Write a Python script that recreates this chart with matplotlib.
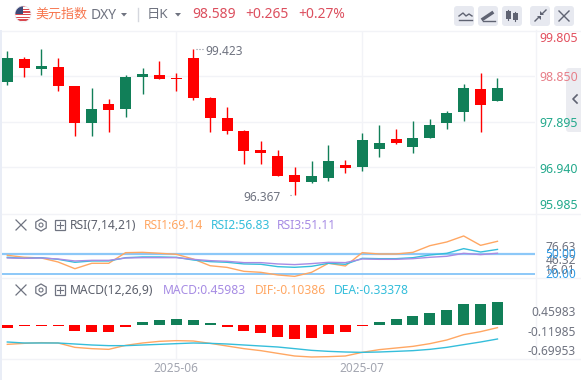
import matplotlib
matplotlib.use('Agg')
import numpy as np
import matplotlib.pyplot as plt
from matplotlib.patches import Circle, FancyBboxPatch, Rectangle, RegularPolygon

plt.rcParams['font.family'] = ['Noto Sans', 'Noto Sans CJK SC', 'DejaVu Sans']

# Daily candles
opens = [98.724, 99.206, 98.997, 99.038, 98.641, 97.872, 98.264, 98.159, 98.829, 98.871,
         98.808, 99.227, 98.389, 97.970, 97.698, 97.300, 97.175, 96.777, 96.630, 96.714,
         96.986, 96.944, 97.321, 97.531, 97.363, 97.552, 97.866, 98.096, 98.578, 98.326]
highs = [99.374, 99.254, 99.415, 99.227, 98.641, 98.599, 98.368, 98.871, 99.018, 99.164,
         98.913, 99.423, 98.410, 98.201, 97.719, 97.489, 97.300, 96.944, 97.070, 97.405,
         97.091, 97.656, 97.824, 97.740, 97.908, 97.949, 98.117, 98.682, 98.913, 98.808]
lows = [98.662, 98.829, 98.871, 98.536, 97.593, 97.593, 97.677, 97.991, 98.473, 98.787,
        98.536, 98.347, 97.677, 97.635, 97.011, 97.011, 96.756, 96.367, 96.609, 96.651,
        96.819, 96.860, 97.154, 97.426, 97.237, 97.552, 97.740, 97.908, 97.677, 98.326]
closes = [99.227, 99.018, 99.059, 98.641, 97.872, 98.159, 98.138, 98.829, 98.892, 98.787,
          98.793, 98.389, 97.970, 97.698, 97.279, 97.237, 96.756, 96.630, 96.756, 97.070,
          96.923, 97.510, 97.447, 97.447, 97.552, 97.824, 98.075, 98.599, 98.243, 98.599]

rsi1 = [47.9, 44.9, 43.9, 37.8, 27.6, 35.8, 35.8, 51.9, 52.4, 51.0, 49.4, 42.3, 32.1, 29.6, 23.6,
        22.1, 18.1, 16.0, 22.1, 35.8, 31.7, 51.9, 49.9, 49.9, 52.4, 62.5, 68.1, 77.2, 63.0, 69.14]
rsi2 = [44.9, 43.3, 44.3, 41.8, 37.3, 39.3, 39.3, 44.3, 45.4, 45.4, 44.9, 40.8, 38.3, 37.3, 34.8,
        34.3, 30.7, 29.7, 31.2, 35.8, 34.3, 43.3, 42.8, 42.8, 44.3, 48.4, 50.9, 58.0, 52.9, 56.83]
rsi3 = [43.8, 43.3, 43.8, 42.3, 39.3, 40.3, 40.3, 43.8, 44.3, 44.3, 44.3, 41.8, 39.8, 38.8, 36.8,
        36.8, 34.8, 33.8, 35.3, 37.3, 36.8, 42.3, 41.8, 41.8, 42.8, 44.9, 46.4, 50.9, 48.9, 51.11]

macd = [-0.06, -0.012, -0.012, -0.012, -0.12, -0.14, -0.14, -0.04, 0.06, 0.107,
        0.12, 0.10, 0.04, -0.04, -0.12, -0.16, -0.24, -0.28, -0.26, -0.18,
        -0.14, -0.02, 0.06, 0.12, 0.18, 0.24, 0.30, 0.42, 0.42, 0.46]
dif = [-0.387, -0.367, -0.353, -0.360, -0.447, -0.473, -0.487, -0.407, -0.360, -0.327,
       -0.313, -0.320, -0.367, -0.420, -0.473, -0.513, -0.567, -0.620, -0.640, -0.633,
       -0.620, -0.547, -0.493, -0.460, -0.427, -0.373, -0.300, -0.193, -0.133, -0.053]
dea = [-0.340, -0.360, -0.360, -0.360, -0.380, -0.400, -0.413, -0.413, -0.400, -0.387,
       -0.373, -0.360, -0.367, -0.380, -0.400, -0.420, -0.440, -0.473, -0.507, -0.527,
       -0.540, -0.547, -0.540, -0.527, -0.513, -0.487, -0.447, -0.393, -0.340, -0.280]

price_ticks = [99.805, 98.850, 97.895, 96.940, 95.985]
month_labels = ['2025-06', '2025-07']
month_index = [10, 21]

GREEN = '#117f58'
RED = '#ff0000'
GRID = '#f2f3f7'
ORANGE = '#ffa763'
CYAN = '#35bedb'
PURPLE = '#a78ce4'
GRAY = '#6f7380'
W, H = 581, 380

fig = plt.figure(figsize=(W / 100, H / 100), dpi=100)


def panel(top, bottom):
    # axes placed by pixel rows, sharing the candle x positions
    ax = fig.add_axes([0, 1 - bottom / H, 535 / W, (bottom - top) / H])
    ax.set_xlim(-0.432, 31.22)
    ax.set_xticks([])
    ax.set_yticks([])
    for s in ax.spines.values():
        s.set_visible(False)
    for i in month_index:
        ax.axvline(i, color=GRID, lw=1, zorder=0)
    return ax


x = np.arange(len(opens))
ups = np.array(closes) >= np.array(opens)
colors = [GREEN if u else RED for u in ups]

# candles
ax1 = panel(30.5, 214)
ax1.set_ylim(95.96, 99.803)
for p in price_ticks[1:4]:
    ax1.axhline(p, color=GRID, lw=1, zorder=0)
ax1.vlines(x, lows, highs, colors=colors, lw=1.0, zorder=2)
ax1.bar(x, np.abs(np.array(closes) - np.array(opens)), bottom=np.minimum(opens, closes),
        width=0.65, color=colors, zorder=3)
ax1.plot([11.15, 11.65], [highs[11], highs[11]], color='#8a8d98', lw=0.8, ls=':')
ax1.annotate('99.423', (11.7, highs[11]), xytext=(0, -2), textcoords='offset points',
             color=GRAY, fontsize=8.6, va='center', ha='left')
ax1.plot([16.75, 16.9], [lows[17], lows[17]], color='#8a8d98', lw=0.8, ls=':')
ax1.annotate('96.367', (16.2, lows[17]), xytext=(0, -2), textcoords='offset points',
             color=GRAY, fontsize=8.6, va='center', ha='right')

# RSI
ax2 = panel(214, 278)
ax2.set_ylim(13.5, 110.5)
ax2.axhline(50, color='#8cc8f8', lw=1.6, zorder=1)
ax2.axhline(20, color='#8cc8f8', lw=1.4, zorder=1)
ax2.plot(x, rsi1, color=ORANGE, lw=1, zorder=2)
ax2.plot(x, rsi2, color=CYAN, lw=1, zorder=3)
ax2.plot(x, rsi3, color=PURPLE, lw=1, zorder=3)

# MACD
ax3 = panel(278, 359)
ax3.set_ylim(-0.68, 0.94)
ax3.bar(x, macd, width=0.65, color=[GREEN if m > 0 else RED for m in macd], zorder=2)
ax3.plot(x, dif, color=ORANGE, lw=1, zorder=3)
ax3.plot(x, dea, color=CYAN, lw=1, zorder=3)

# overlay in pixel coordinates for header, axis labels and icons
ov = fig.add_axes([0, 0, 1, 1], facecolor='none')
ov.set_xlim(0, W)
ov.set_ylim(H, 0)
ov.axis('off')


def txt(px, py, s, **kw):
    # glyphs sit a little high with va=center, so nudge them down
    ov.text(px, py + 1.5, s, va='center', **kw)


ov.add_patch(Rectangle((0, 30), 2, 350, color='#e9edf6', lw=0))
ov.plot([2, W], [30.5, 30.5], color=GRID, lw=1)
for yy in [214, 278, 359]:
    ov.plot([2, W], [yy, yy], color=GRID, lw=1)
ov.plot([535.5, 535.5], [30, 359], color=GRID, lw=1)

# flag
clip = Circle((23, 14), 8, transform=ov.transData)
for k in range(6):
    r = ov.add_patch(Rectangle((15, 6 + k * 2.67), 16, 1.4, color='#d9484f', lw=0))
    r.set_clip_path(clip)
b = ov.add_patch(Rectangle((15, 6), 8, 7.5, color='#3c4a78', lw=0))
b.set_clip_path(clip)
ov.add_patch(Circle((23, 14), 8, fill=False, ec='#e8e8ee', lw=0.5))

txt(35, 13, '美元指数', color='#f7764e', fontsize=9.4)
txt(91, 14, 'DXY', color=GRAY, fontsize=10)
ov.fill([121, 127, 124], [13, 13, 16.5], color=GRAY, lw=0)
ov.plot([137.5, 137.5], [8, 21], color='#d5d7de', lw=1)
txt(147, 13, '日K', color=GRAY, fontsize=9.6)
ov.fill([175, 181, 178], [13, 13, 16.5], color=GRAY, lw=0)
txt(192, 13, '98.589', color='#dc4f5e', fontsize=10, fontweight='bold')
txt(245, 13, '+0.265', color='#dc4f5e', fontsize=10, fontweight='bold')
txt(298, 13, '+0.27%', color='#dc4f5e', fontsize=10, fontweight='bold')

# toolbar buttons
for bx in [454, 478, 502, 530, 554]:
    ov.add_patch(FancyBboxPatch((bx + 2, 8), 16, 16, boxstyle='round,pad=2,rounding_size=3',
                                fc='#e7e9f0', ec='none'))
ov.plot([459, 463, 466, 469, 472], [16, 13, 16, 14, 16], color='#5f6372', lw=1)
ov.plot([459, 472], [20, 20], color='#5f6372', lw=1)
ov.plot([483, 492], [19, 13], color='#5f6372', lw=2.4)
ov.plot([483, 495], [21, 21], color='#5f6372', lw=1)
for cx, top, bot in [(508, 11, 19), (515, 13, 20)]:
    ov.plot([cx, cx], [top - 1, bot + 1], color='#5f6372', lw=0.8)
    ov.add_patch(Rectangle((cx - 2.5, top), 5, bot - top, color='#5f6372', lw=0))
ov.plot([535, 539], [21, 17], color='#5f6372', lw=1)
ov.plot([542, 546], [14, 10], color='#5f6372', lw=1)
ov.fill([537, 541, 541], [16, 16, 20], color='#5f6372', lw=0)
ov.fill([540, 544, 540], [11, 15, 15], color='#5f6372', lw=0)
ov.plot([559, 569], [11, 21], color='#5f6372', lw=1)
ov.plot([559, 569], [21, 11], color='#5f6372', lw=1)

# price labels
price_y = [37, 76, 122, 168, 204]
price_c = ['#e2505f', '#e77f89', '#23a98c', '#23a98c', '#23a98c']
for t, yy, c in zip(price_ticks, price_y, price_c):
    txt(539, yy, '%.3f' % t, color=c, fontsize=8.9)

# side tab
ov.add_patch(FancyBboxPatch((568, 70), 16, 60, boxstyle='round,pad=2,rounding_size=3',
                            fc='#ebecf1', ec='none'))
ov.plot([577, 573, 577], [95, 99, 103], color='#5f6372', lw=1.2)


def legend_icons(yy):
    ov.plot([16, 26], [yy - 5, yy + 5], color=GRAY, lw=0.9)
    ov.plot([16, 26], [yy + 5, yy - 5], color=GRAY, lw=0.9)
    ov.add_patch(RegularPolygon((41, yy), 6, radius=6, fill=False, ec=GRAY, lw=0.9))
    ov.add_patch(Circle((41, yy), 2, fill=False, ec=GRAY, lw=0.8))
    ov.add_patch(Rectangle((55, yy - 5), 10, 10, fill=False, ec=GRAY, lw=0.9))
    ov.plot([57, 63], [yy, yy], color=GRAY, lw=0.8)
    ov.plot([60, 60], [yy - 3, yy + 3], color=GRAY, lw=0.8)


legend_icons(225)
txt(70, 224, 'RSI(7,14,21)', color='#5c606c', fontsize=8.7)
txt(144, 224, 'RSI1:69.14', color=ORANGE, fontsize=8.7)
txt(211, 224, 'RSI2:56.83', color=CYAN, fontsize=8.7)
txt(277, 224, 'RSI3:51.11', color=PURPLE, fontsize=8.7)

legend_icons(290)
txt(70, 289, 'MACD(12,26,9)', color='#5c606c', fontsize=8.7)
txt(163, 289, 'MACD:0.45983', color=PURPLE, fontsize=8.7)
txt(255, 289, 'DIF:-0.10386', color=ORANGE, fontsize=8.7)
txt(334, 289, 'DEA:-0.33378', color=CYAN, fontsize=8.7)

# RSI and MACD axis labels
for t, yy in [('76.63', 246), ('46.32', 259), ('16.01', 268.5)]:
    txt(576, yy, t, color=GRAY, fontsize=8.6, ha='right')
for t, yy in [('50.00', 253.5), ('20.00', 273.5)]:
    txt(576, yy, t, color='#2f9be6', fontsize=8.6, ha='right')
for t, yy in [('0.45983', 311), ('-0.11985', 331), ('-0.69953', 350)]:
    txt(576, yy, t, color=GRAY, fontsize=8.6, ha='right')

for label, i in zip(month_labels, month_index):
    px = 7.3 + 16.9 * i
    txt(px, 366.5, label, color='#a2a5b0', fontsize=8.5, ha='center')

fig.savefig('out.png', dpi=100)
